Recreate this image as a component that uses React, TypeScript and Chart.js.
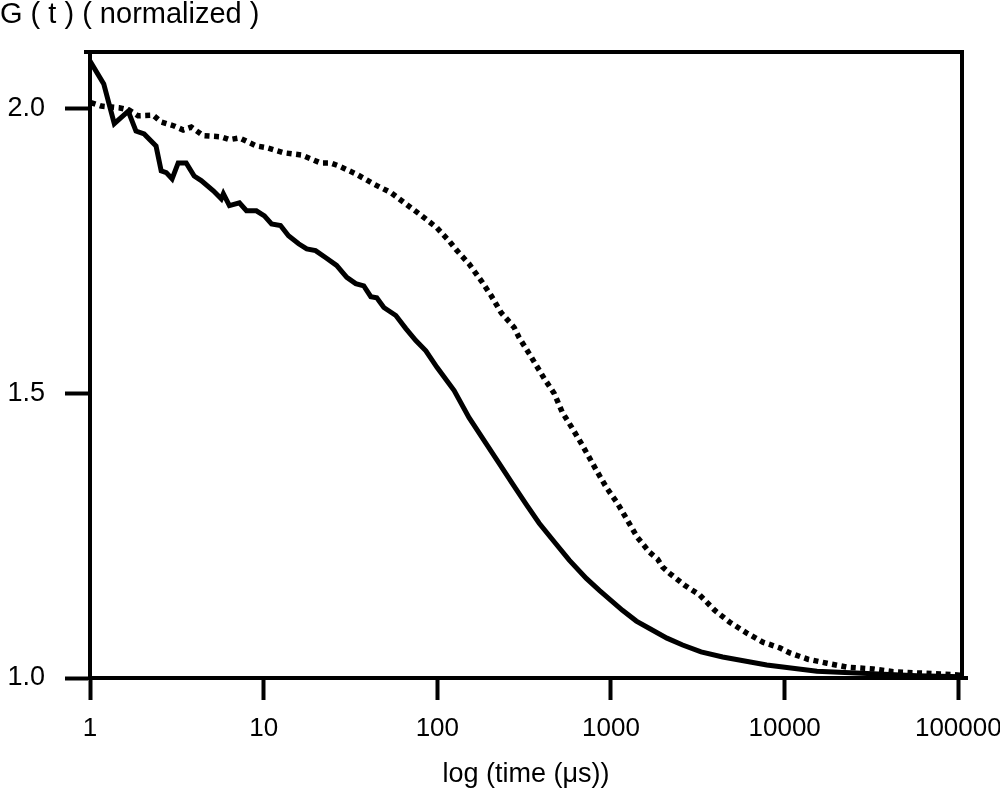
import React, { useEffect, useRef } from "react";
import { Chart, registerables } from "chart.js";

Chart.register(...registerables);

// Time (µs) and normalized G(t), solid curve
const solidTime = [
  1.0, 1.2, 1.38, 1.66, 1.84, 2.05, 2.4, 2.57, 2.75, 2.97, 3.22, 3.58, 3.98, 4.37, 5.13, 5.7, 5.86, 6.35,
  7.25, 7.96, 9.08, 10.1, 11.1, 12.5, 13.9, 15.9, 17.7, 19.9, 22.7, 26.3, 30.1, 33.9, 37.7, 41.4, 44.8,
  49.2, 57.7, 65.9, 75.2, 85.9, 99.5, 125, 152, 191, 227, 270, 325, 386, 484, 575, 721, 857, 1164, 1400,
  1667, 2100, 2585, 3300, 4397, 7889, 15350, 29850, 57940, 105500,
];
const solidG = [
  2.084, 2.044, 1.974, 1.996, 1.961, 1.956, 1.935, 1.891, 1.888, 1.877, 1.905, 1.905, 1.882, 1.874, 1.856,
  1.842, 1.851, 1.83, 1.835, 1.821, 1.821, 1.812, 1.798, 1.795, 1.777, 1.763, 1.754, 1.751, 1.739, 1.725,
  1.704, 1.693, 1.689, 1.67, 1.668, 1.651, 1.637, 1.614, 1.593, 1.575, 1.546, 1.505, 1.458, 1.412, 1.377,
  1.342, 1.305, 1.272, 1.235, 1.207, 1.175, 1.154, 1.119, 1.1, 1.087, 1.07, 1.058, 1.046, 1.037, 1.023,
  1.012, 1.008, 1.004, 1.002,
];

// Time (µs) and normalized G(t), dotted curve
const dottedTime = [
  1.01, 1.16, 1.47, 1.68, 1.89, 2.31, 2.57, 3.05, 3.44, 3.83, 4.49, 5.7, 6.35, 7.25, 9.08, 10.4, 13.0,
  16.5, 21.3, 24.3, 27.0, 33.9, 43.0, 54.0, 65.9, 81.5, 99.5, 117, 128, 152, 179, 204, 233, 277, 296, 338,
  413, 471, 524, 598, 684, 824, 940, 1089, 1244, 1420, 1667, 1854, 1982, 2174, 2655, 3238, 3953, 4827,
  6053, 7486, 9372, 10710, 13610, 17530, 22860, 32300, 42150, 57940, 78700, 102800,
];
const dottedG = [
  2.011, 2.005, 2.002, 1.998, 1.988, 1.989, 1.977, 1.97, 1.963, 1.968, 1.953, 1.951, 1.946, 1.949, 1.935,
  1.932, 1.923, 1.919, 1.905, 1.905, 1.9, 1.886, 1.868, 1.853, 1.833, 1.812, 1.791, 1.768, 1.753, 1.728,
  1.698, 1.672, 1.642, 1.616, 1.598, 1.57, 1.526, 1.5, 1.467, 1.439, 1.409, 1.365, 1.335, 1.307, 1.277,
  1.247, 1.221, 1.209, 1.195, 1.184, 1.163, 1.146, 1.119, 1.098, 1.079, 1.063, 1.053, 1.044, 1.033, 1.026,
  1.019, 1.016, 1.011, 1.009, 1.007, 1.005,
];

const xTickValues = [1, 10, 100, 1000, 10000, 100000];
const yTickValues = [1.0, 1.5, 2.0];
const yTitle = "G ( t ) ( normalized )";
const xTitle = "log (time (μs))";

const FONT = "'Liberation Sans', Arial, sans-serif";

export default function App() {
  const ref = useRef<HTMLCanvasElement>(null);

  useEffect(() => {
    document.body.style.margin = "0";
    const canvas = ref.current;
    if (!canvas) return;

    const frame = {
      id: "frame",
      afterDraw(chart: any) {
        const { ctx, chartArea } = chart;
        const { left, right, top, bottom } = chartArea;
        ctx.save();
        ctx.strokeStyle = "#000";
        ctx.lineWidth = 4;
        ctx.lineCap = "butt";
        ctx.beginPath();
        ctx.moveTo(left - 6, top);
        ctx.lineTo(right + 2, top);
        ctx.moveTo(right, top);
        ctx.lineTo(right, bottom);
        ctx.moveTo(right - 2, bottom);
        ctx.lineTo(right + 6, bottom);
        ctx.stroke();
        ctx.restore();
      },
    };

    const chart = new Chart(canvas, {
      type: "line",
      data: {
        datasets: [
          {
            label: "solid",
            data: solidTime.map((t, i) => ({ x: t, y: solidG[i] })),
            borderColor: "#000",
            borderWidth: 5,
            pointRadius: 0,
            tension: 0,
            fill: false,
          },
          {
            label: "dotted",
            data: dottedTime.map((t, i) => ({ x: t, y: dottedG[i] })),
            borderColor: "#000",
            borderWidth: 5.5,
            borderDash: [5, 4.5],
            borderCapStyle: "butt",
            pointRadius: 0,
            tension: 0,
            fill: false,
          },
        ],
      },
      plugins: [frame],
      options: {
        animation: false,
        responsive: false,
        devicePixelRatio: 1,
        layout: { autoPadding: false, padding: { left: 0, right: 38, top: 0, bottom: 0 } },
        plugins: {
          legend: { display: false },
          tooltip: { enabled: false },
          title: {
            display: true,
            text: yTitle,
            align: "start",
            color: "#000",
            font: { family: FONT, size: 29, weight: "normal", lineHeight: 1.0 },
            padding: { top: 0, bottom: 23 },
          },
        },
        scales: {
          x: {
            type: "logarithmic",
            min: 1,
            max: 105000,
            afterBuildTicks: (scale: any) => {
              scale.ticks = xTickValues.map((v) => ({ value: v }));
            },
            afterFit: (scale: any) => {
              scale.height = 119;
              scale.paddingLeft = 0;
              scale.paddingRight = 0;
            },
            ticks: {
              autoSkip: false,
              maxRotation: 0,
              color: "#000",
              padding: 13,
              font: { family: FONT, size: 26 },
              callback: (v: any) => String(v),
            },
            grid: {
              drawOnChartArea: false,
              drawTicks: true,
              tickLength: 22,
              tickWidth: 4,
              tickColor: "#000",
              color: "#000",
            },
            border: { display: true, color: "#000", width: 4 },
            title: {
              display: true,
              text: xTitle,
              color: "#000",
              font: { family: FONT, size: 27 },
              padding: { top: 0, bottom: 6 },
            },
          },
          y: {
            type: "linear",
            min: 1,
            max: 2.1,
            afterBuildTicks: (scale: any) => {
              scale.ticks = yTickValues.map((v) => ({ value: v }));
            },
            afterFit: (scale: any) => {
              scale.width = 90;
              scale.paddingTop = 0;
              scale.paddingBottom = 0;
            },
            ticks: {
              color: "#000",
              padding: 20,
              font: { family: FONT, size: 27 },
              callback: (v: any) => Number(v).toFixed(1),
            },
            grid: {
              drawOnChartArea: false,
              drawTicks: true,
              tickLength: 25,
              tickWidth: 4,
              tickColor: "#000",
              color: "#000",
            },
            border: { display: true, color: "#000", width: 4 },
          },
        },
      },
    } as any);

    return () => chart.destroy();
  }, []);

  return (
    <div style={{ width: 1000, height: 797 }}>
      <canvas ref={ref} width={1000} height={797} style={{ display: "block" }} />
    </div>
  );
}
